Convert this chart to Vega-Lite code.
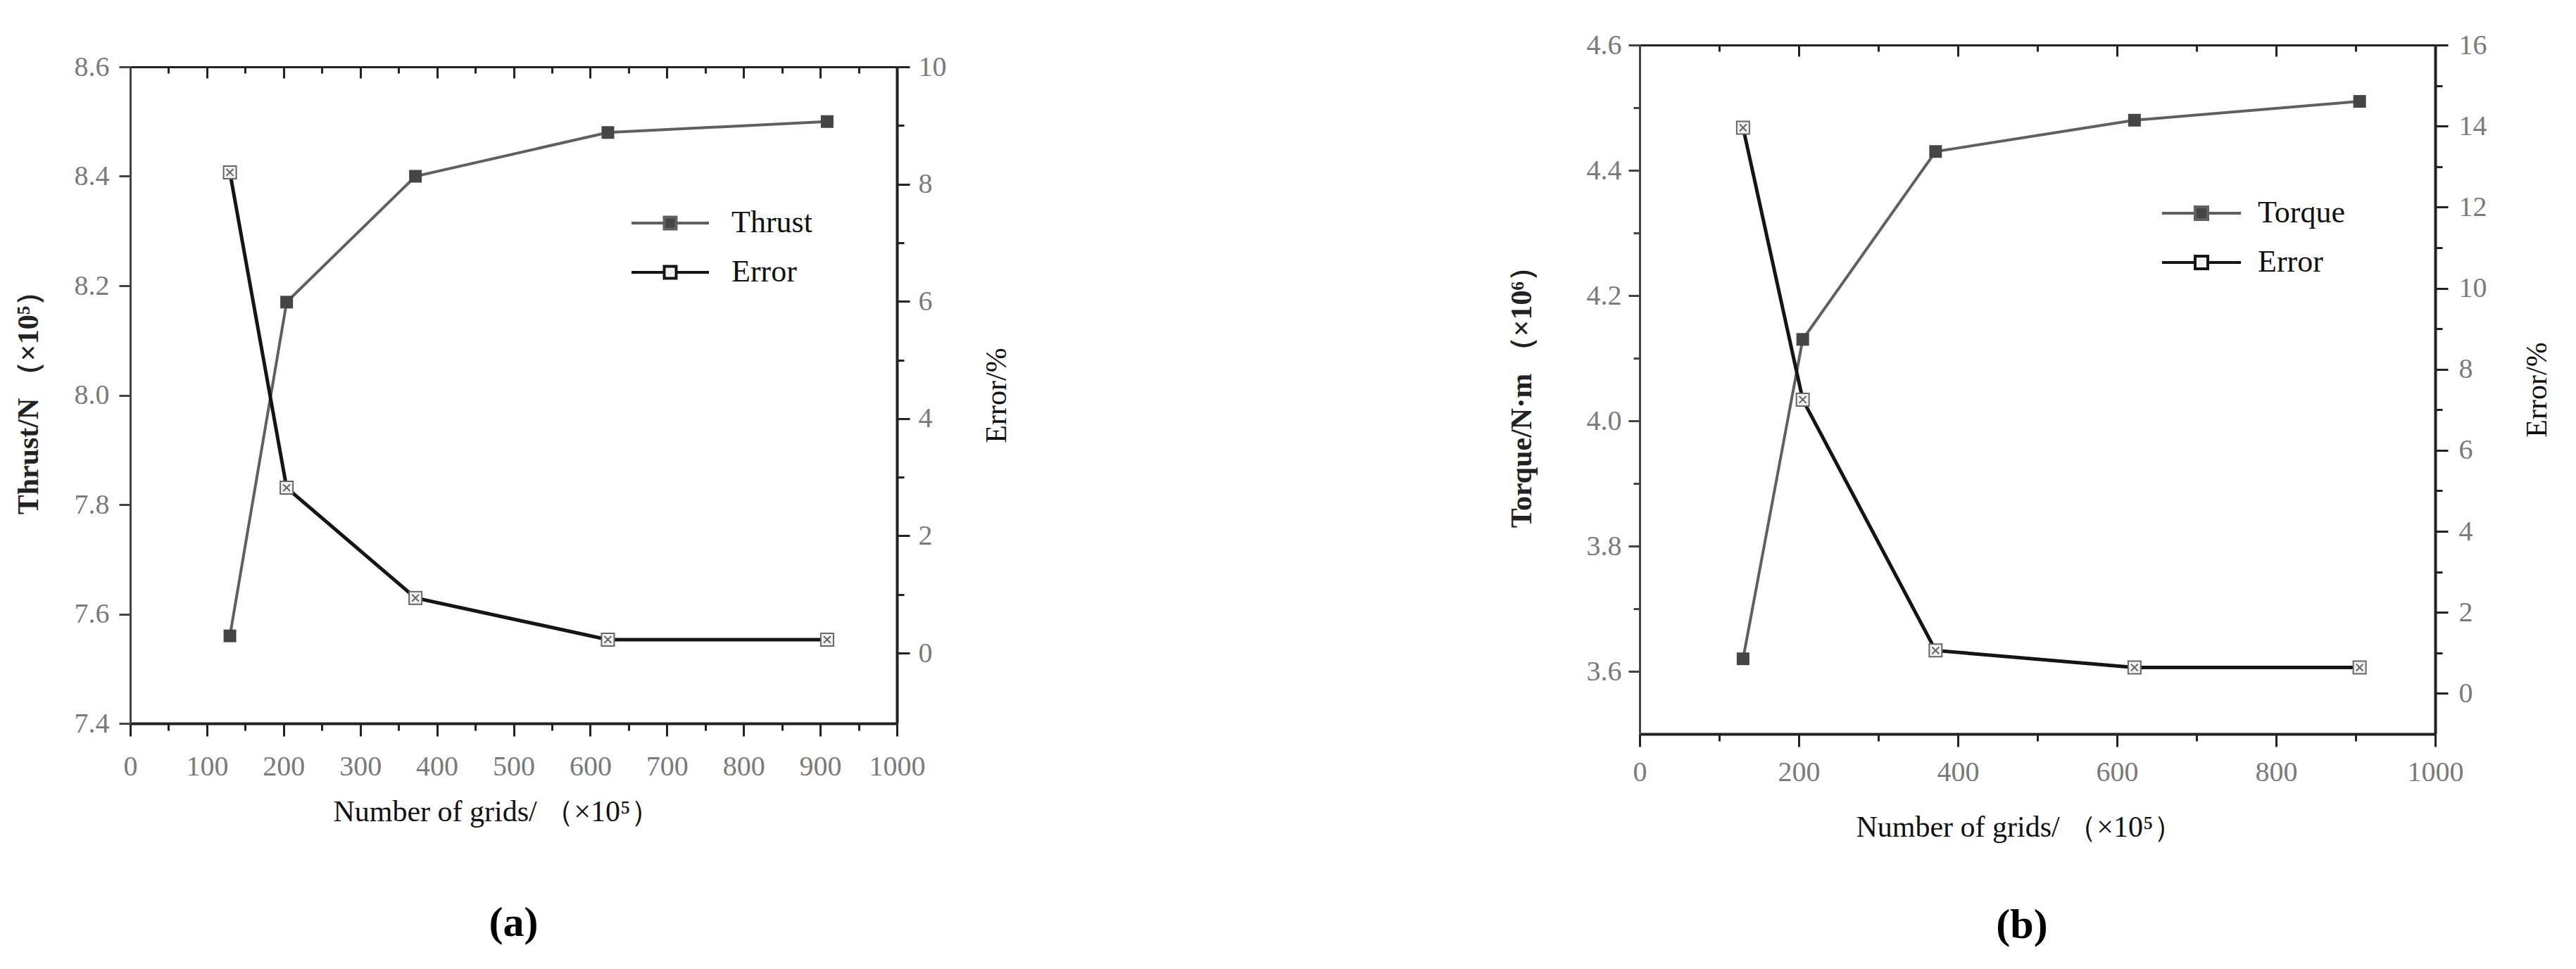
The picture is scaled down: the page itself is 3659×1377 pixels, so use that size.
{
  "$schema": "https://vega.github.io/schema/vega-lite/v6.json",
  "background": "white",
  "padding": {"left": 19, "top": 44, "right": 5, "bottom": 5},
  "config": {"view": {"stroke": null}},
  "datasets": {
    "thrust": [
      {"grids": 130, "value": 7.56, "series": "Thrust"},
      {"grids": 204, "value": 8.17, "series": "Thrust"},
      {"grids": 372, "value": 8.40, "series": "Thrust"},
      {"grids": 623, "value": 8.48, "series": "Thrust"},
      {"grids": 909, "value": 8.50, "series": "Thrust"}
    ],
    "errA": [
      {"grids": 130, "value": 8.20, "series": "Error"},
      {"grids": 204, "value": 2.82, "series": "Error"},
      {"grids": 372, "value": 0.94, "series": "Error"},
      {"grids": 623, "value": 0.23, "series": "Error"},
      {"grids": 909, "value": 0.23, "series": "Error"}
    ],
    "torque": [
      {"grids": 130, "value": 3.62, "series": "Torque"},
      {"grids": 205, "value": 4.13, "series": "Torque"},
      {"grids": 372, "value": 4.43, "series": "Torque"},
      {"grids": 622, "value": 4.48, "series": "Torque"},
      {"grids": 905, "value": 4.51, "series": "Torque"}
    ],
    "errB": [
      {"grids": 130, "value": 13.96, "series": "Error"},
      {"grids": 205, "value": 7.25, "series": "Error"},
      {"grids": 372, "value": 1.06, "series": "Error"},
      {"grids": 622, "value": 0.64, "series": "Error"},
      {"grids": 905, "value": 0.64, "series": "Error"}
    ],
    "blank": [{"k": 1}]
  },
  "resolve": {"scale": {"color": "independent"}, "legend": {"color": "independent"}},
  "spacing": 704,
  "hconcat": [
    {
      "bounds": "flush",
      "spacing": 0,
      "vconcat": [
        {
          "width": 1089, "height": 31,
          "data": {"name": "blank"},
          "mark": {"type": "point", "opacity": 0},
          "encoding": {}
        },
        {
          "width": 1089, "height": 933,
          "title": {"text": "(a)", "orient": "bottom", "font": "Liberation Serif", "fontSize": 60, "fontWeight": "bold", "color": "#000000", "offset": 109},
          "resolve": {"scale": {"y": "independent"}, "axis": {"x": "independent", "y": "independent"}},
          "layer": [
            {
              "resolve": {"axis": {"x": "independent", "y": "independent"}},
              "layer": [
                {
                  "data": {"name": "thrust"},
                  "mark": {"type": "line", "strokeWidth": 4},
                  "encoding": {
                    "x": {"field": "grids", "type": "quantitative", "scale": {"domain": [0, 1000], "nice": false, "zero": false},
                      "axis": {"orient": "bottom", "values": [0, 100, 200, 300, 400, 500, 600, 700, 800, 900, 1000], "format": "d", "tickSize": 18, "tickWidth": 3, "tickColor": "#222222", "domain": true, "domainWidth": 4, "domainColor": "#222222", "grid": false, "labelOverlap": false, "labelFlush": false, "labelFont": "Liberation Serif", "labelFontSize": 40, "labelColor": "#7a7a7a", "labelPadding": 23, "title": "Number of grids/ （×10⁵）", "titleFont": "Liberation Serif", "titleFontSize": 42, "titleFontWeight": "normal", "titleColor": "#111111", "titlePadding": 24, "titleX": 520}},
                    "y": {"field": "value", "type": "quantitative", "scale": {"domain": [7.4, 8.6], "nice": false, "zero": false},
                      "axis": {"orient": "left", "values": [7.4, 7.6, 7.8, 8.0, 8.2, 8.4, 8.6], "format": ".1f", "tickSize": 16, "tickWidth": 3, "tickColor": "#444444", "domain": true, "domainWidth": 3, "domainColor": "#444444", "grid": false, "labelOverlap": false, "labelFlush": false, "labelFont": "Liberation Serif", "labelFontSize": 40, "labelColor": "#7a7a7a", "labelPadding": 14, "title": "Thrust/N （×10⁵）", "titleFont": "Liberation Serif", "titleFontSize": 42, "titleFontWeight": "bold", "titleColor": "#222222", "titlePadding": 43}},
                    "color": {"field": "series", "type": "nominal", "scale": {"domain": ["Thrust", "Error"], "range": ["#606060", "#151515"]},
                      "legend": {"title": null, "orient": "none", "legendX": 735, "legendY": 221, "symbolType": "M-1.833,0H-0.283M0.283,0H1.833M-0.283,-0.283H0.283V0.283H-0.283Z", "symbolSize": 3600, "symbolStrokeWidth": 4, "labelFont": "Liberation Serif", "labelFontSize": 44, "labelColor": "#111111", "labelOffset": 55, "rowPadding": 16, "padding": 0, "offset": 0,
                        "encode": {"symbols": {"update": {"fill": {"signal": "datum.value === 'Error' ? '#f2f2f2' : '#454545'"}, "opacity": {"value": 1}}}}}}
                  }
                },
                {
                  "data": {"name": "thrust"},
                  "mark": {"type": "point", "shape": "square", "filled": true, "size": 324, "color": "#454545", "opacity": 1},
                  "encoding": {
                    "x": {"field": "grids", "type": "quantitative",
                      "axis": {"orient": "top", "values": [0, 100, 200, 300, 400, 500, 600, 700, 800, 900, 1000], "tickSize": -16, "tickWidth": 3, "tickColor": "#222222", "domain": true, "domainWidth": 3, "domainColor": "#222222", "grid": false, "labels": false, "title": null}},
                    "y": {"field": "value", "type": "quantitative", "axis": null}
                  }
                }
              ]
            },
            {
              "resolve": {"axis": {"x": "independent", "y": "independent"}},
              "layer": [
                {
                  "data": {"name": "errA"},
                  "mark": {"type": "line", "strokeWidth": 5},
                  "encoding": {
                    "x": {"field": "grids", "type": "quantitative",
                      "axis": {"orient": "bottom", "values": [50, 150, 250, 350, 450, 550, 650, 750, 850, 950], "tickSize": 10, "tickWidth": 3, "tickColor": "#222222", "domain": false, "grid": false, "labels": false, "title": null}},
                    "y": {"field": "value", "type": "quantitative", "scale": {"domain": [-1.2, 10], "nice": false, "zero": false},
                      "axis": {"orient": "right", "values": [0, 2, 4, 6, 8, 10], "tickSize": 18, "tickWidth": 3, "tickColor": "#222222", "domain": true, "domainWidth": 4, "domainColor": "#222222", "grid": false, "labelOverlap": false, "labelFlush": false, "labelFont": "Liberation Serif", "labelFontSize": 40, "labelColor": "#7a7a7a", "labelPadding": 12, "title": "Error/%", "titleFont": "Liberation Serif", "titleFontSize": 42, "titleFontWeight": "normal", "titleColor": "#111111", "titleAngle": 270, "titlePadding": 93}},
                    "color": {"field": "series", "type": "nominal"}
                  }
                },
                {
                  "data": {"name": "errA"},
                  "mark": {"type": "point", "shape": "M-1,-1H1V1H-1ZM-0.55,-0.55L0.55,0.55M0.55,-0.55L-0.55,0.55", "filled": true, "fill": "#f2f2f2", "stroke": "#666666", "strokeWidth": 2, "size": 324, "opacity": 1},
                  "encoding": {
                    "x": {"field": "grids", "type": "quantitative",
                      "axis": {"orient": "top", "values": [50, 150, 250, 350, 450, 550, 650, 750, 850, 950], "tickSize": -9, "tickWidth": 3, "tickColor": "#222222", "domain": false, "grid": false, "labels": false, "title": null}},
                    "y": {"field": "value", "type": "quantitative",
                      "axis": {"orient": "right", "values": [1, 3, 5, 7, 9], "tickSize": 10, "tickWidth": 3, "tickColor": "#222222", "domain": false, "grid": false, "labels": false, "title": null}}
                  }
                }
              ]
            }
          ]
        }
      ]
    },
    {
      "width": 1130, "height": 979,
      "title": {"text": "(b)", "orient": "bottom", "font": "Liberation Serif", "fontSize": 60, "fontWeight": "bold", "color": "#000000", "offset": 90, "dx": -22},
      "resolve": {"scale": {"y": "independent"}, "axis": {"x": "independent", "y": "independent"}},
      "layer": [
        {
          "resolve": {"axis": {"x": "independent", "y": "independent"}},
          "layer": [
            {
              "data": {"name": "torque"},
              "mark": {"type": "line", "strokeWidth": 4},
              "encoding": {
                "x": {"field": "grids", "type": "quantitative", "scale": {"domain": [0, 1000], "nice": false, "zero": false},
                  "axis": {"orient": "bottom", "values": [0, 200, 400, 600, 800, 1000], "format": "d", "tickSize": 18, "tickWidth": 3, "tickColor": "#222222", "domain": true, "domainWidth": 4, "domainColor": "#222222", "grid": false, "labelOverlap": false, "labelFlush": false, "labelFont": "Liberation Serif", "labelFontSize": 40, "labelColor": "#7a7a7a", "labelPadding": 16, "title": "Number of grids/ （×10⁵）", "titleFont": "Liberation Serif", "titleFontSize": 42, "titleFontWeight": "normal", "titleColor": "#111111", "titlePadding": 38, "titleX": 539}},
                "y": {"field": "value", "type": "quantitative", "scale": {"domain": [3.5, 4.6], "nice": false, "zero": false},
                  "axis": {"orient": "left", "values": [3.6, 3.8, 4.0, 4.2, 4.4, 4.6], "format": ".1f", "tickSize": 16, "tickWidth": 3, "tickColor": "#444444", "domain": true, "domainWidth": 3, "domainColor": "#444444", "grid": false, "labelOverlap": false, "labelFlush": false, "labelFont": "Liberation Serif", "labelFontSize": 40, "labelColor": "#7a7a7a", "labelPadding": 10, "title": "Torque/N·m （×10⁶）", "titleFont": "Liberation Serif", "titleFontSize": 42, "titleFontWeight": "bold", "titleColor": "#222222", "titlePadding": 70}},
                "color": {"field": "series", "type": "nominal", "scale": {"domain": ["Torque", "Error"], "range": ["#606060", "#151515"]},
                  "legend": {"title": null, "orient": "none", "legendX": 766, "legendY": 207, "symbolType": "M-1.87,0H-0.3M0.3,0H1.87M-0.3,-0.3H0.3V0.3H-0.3Z", "symbolSize": 3600, "symbolStrokeWidth": 4, "labelFont": "Liberation Serif", "labelFontSize": 44, "labelColor": "#111111", "labelOffset": 48, "rowPadding": 16, "padding": 0, "offset": 0,
                    "encode": {"symbols": {"update": {"fill": {"signal": "datum.value === 'Error' ? '#f2f2f2' : '#454545'"}, "opacity": {"value": 1}}}}}}
              }
            },
            {
              "data": {"name": "torque"},
              "mark": {"type": "point", "shape": "square", "filled": true, "size": 324, "color": "#454545", "opacity": 1},
              "encoding": {
                "x": {"field": "grids", "type": "quantitative",
                  "axis": {"orient": "top", "values": [0, 200, 400, 600, 800, 1000], "tickSize": -16, "tickWidth": 3, "tickColor": "#222222", "domain": true, "domainWidth": 3, "domainColor": "#222222", "grid": false, "labels": false, "title": null}},
                "y": {"field": "value", "type": "quantitative",
                  "axis": {"orient": "left", "values": [3.7, 3.9, 4.1, 4.3, 4.5], "tickSize": 9, "tickWidth": 3, "tickColor": "#444444", "domain": false, "grid": false, "labels": false, "title": null}}
              }
            }
          ]
        },
        {
          "resolve": {"axis": {"x": "independent", "y": "independent"}},
          "layer": [
            {
              "data": {"name": "errB"},
              "mark": {"type": "line", "strokeWidth": 5},
              "encoding": {
                "x": {"field": "grids", "type": "quantitative",
                  "axis": {"orient": "bottom", "values": [100, 300, 500, 700, 900], "tickSize": 10, "tickWidth": 3, "tickColor": "#222222", "domain": false, "grid": false, "labels": false, "title": null}},
                "y": {"field": "value", "type": "quantitative", "scale": {"domain": [-1, 16], "nice": false, "zero": false},
                  "axis": {"orient": "right", "values": [0, 2, 4, 6, 8, 10, 12, 14, 16], "tickSize": 18, "tickWidth": 3, "tickColor": "#222222", "domain": true, "domainWidth": 4, "domainColor": "#222222", "grid": false, "labelOverlap": false, "labelFlush": false, "labelFont": "Liberation Serif", "labelFontSize": 40, "labelColor": "#7a7a7a", "labelPadding": 15, "title": "Error/%", "titleFont": "Liberation Serif", "titleFontSize": 42, "titleFontWeight": "normal", "titleColor": "#111111", "titleAngle": 270, "titlePadding": 93}},
                "color": {"field": "series", "type": "nominal"}
              }
            },
            {
              "data": {"name": "errB"},
              "mark": {"type": "point", "shape": "M-1,-1H1V1H-1ZM-0.55,-0.55L0.55,0.55M0.55,-0.55L-0.55,0.55", "filled": true, "fill": "#f2f2f2", "stroke": "#666666", "strokeWidth": 2, "size": 324, "opacity": 1},
              "encoding": {
                "x": {"field": "grids", "type": "quantitative",
                  "axis": {"orient": "top", "values": [100, 300, 500, 700, 900], "tickSize": -9, "tickWidth": 3, "tickColor": "#222222", "domain": false, "grid": false, "labels": false, "title": null}},
                "y": {"field": "value", "type": "quantitative",
                  "axis": {"orient": "right", "values": [1, 3, 5, 7, 9, 11, 13, 15], "tickSize": 10, "tickWidth": 3, "tickColor": "#222222", "domain": false, "grid": false, "labels": false, "title": null}}
              }
            }
          ]
        }
      ]
    }
  ]
}
